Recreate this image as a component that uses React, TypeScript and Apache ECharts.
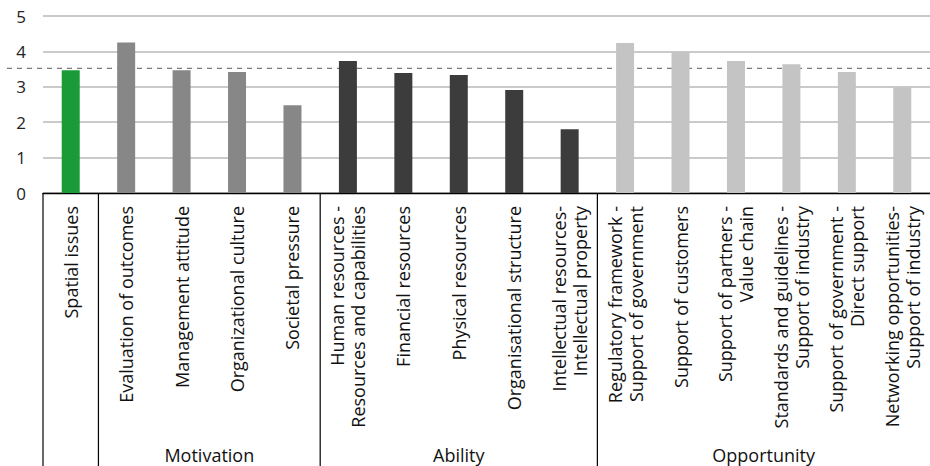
import React, { useEffect, useRef } from "react";
import * as echarts from "echarts";

const categories = [
  "Spatial issues",
  "Evaluation of outcomes",
  "Management attitude",
  "Organizational culture",
  "Societal pressure",
  "Human resources -\nResources and capabilities",
  "Financial resources",
  "Physical resources",
  "Organisational structure",
  "Intellectual resources-\nIntellectual property",
  "Regulatory framework -\nSupport of government",
  "Support of customers",
  "Support of partners -\nValue chain",
  "Standards and guidelines -\nSupport of industry",
  "Support of government -\nDirect support",
  "Networking opportunities-\nSupport of industry",
];

const values = [3.47, 4.25, 3.47, 3.42, 2.48, 3.73, 3.39, 3.33, 2.91, 1.8, 4.24, 3.99, 3.73, 3.64, 3.42, 2.99];

const groupNames = ["", "Motivation", "Ability", "Opportunity"];
const groupCounts = [1, 4, 5, 6];
const groupColors = ["#1a9b38", "#878787", "#3c3c3c", "#c4c4c4"];

const referenceValue = 3.52;
const yTicks = [0, 1, 2, 3, 4, 5];

const FONT = "'Open Sans', sans-serif";

export default function App() {
  const ref = useRef<HTMLDivElement>(null);
  useEffect(() => {
    if (!ref.current) return;
    const chart = echarts.init(ref.current, undefined, { renderer: "svg" });
    const colorOf: string[] = [];
    groupCounts.forEach((c, g) => {
      for (let k = 0; k < c; k++) colorOf.push(groupColors[g]);
    });
    chart.setOption({
      animation: false,
      grid: { left: 43, top: 16, width: 888, height: 177 },
      xAxis: {
        type: "category",
        data: categories,
        axisLine: { show: true, lineStyle: { color: "#000", width: 1.3 } },
        axisTick: { show: false },
        axisLabel: {
          rotate: 90,
          interval: 0,
          fontFamily: FONT,
          fontSize: 18,
          lineHeight: 21,
          color: "#111",
          margin: 13,
        },
      },
      yAxis: {
        type: "value",
        min: yTicks[0],
        max: yTicks[yTicks.length - 1],
        interval: 1,
        axisLine: { show: false },
        axisTick: { show: false },
        axisLabel: { fontFamily: FONT, fontSize: 17, color: "#222", margin: 17 },
        splitLine: { lineStyle: { color: "#b8b8b8", width: 1.5 } },
      },
      series: [
        {
          type: "bar",
          barWidth: 18,
          data: values.map((v, i) => ({ value: v, itemStyle: { color: colorOf[i] } })),
        },
      ],
    });

    const cx = (i: number) => chart.convertToPixel({ xAxisIndex: 0 }, i) as number;
    const step = cx(1) - cx(0);
    const y0 = chart.convertToPixel({ yAxisIndex: 0 }, 0) as number;
    const yRef = chart.convertToPixel({ yAxisIndex: 0 }, referenceValue) as number;
    const elements: any[] = [];
    let start = 0;
    groupCounts.forEach((c, g) => {
      const left = cx(start) - step / 2;
      const right = cx(start + c - 1) + step / 2;
      elements.push({
        type: "line",
        shape: { x1: left, y1: y0, x2: left, y2: 466 },
        style: { stroke: "#000", lineWidth: 1.2 },
        silent: true,
      });
      if (groupNames[g]) {
        elements.push({
          type: "text",
          x: (left + right) / 2,
          y: 455,
          style: {
            text: groupNames[g],
            fontFamily: FONT,
            fontSize: 18,
            fill: "#111",
            align: "center",
            verticalAlign: "middle",
          },
          silent: true,
        });
      }
      start += c;
    });
    elements.push({
      type: "line",
      shape: { x1: 7, y1: yRef, x2: 930, y2: yRef },
      style: { stroke: "#7a7a7a", lineWidth: 1.3, lineDash: [5, 5] },
      silent: true,
    });
    chart.setOption({ graphic: { elements } });
    return () => chart.dispose();
  }, []);
  return (
    <div
      ref={ref}
      style={{ position: "absolute", left: 0, top: 0, width: 930, height: 466 }}
    />
  );
}
